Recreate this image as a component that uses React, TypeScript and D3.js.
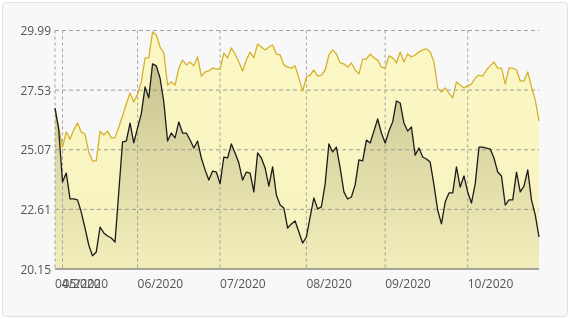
import React from "react";
import * as d3 from "d3";

const yellowValues: number[] = [
  26.79, 25.97, 25.18, 25.8, 25.51, 25.89, 26.17, 25.8, 25.72, 24.98,
  24.61, 24.61, 25.84, 25.68, 25.84, 25.56, 25.56, 26.01, 26.46, 26.96,
  27.41, 27.04, 27.37, 27.87, 28.86, 28.86, 29.93, 29.8, 29.31, 29.06,
  27.74, 27.87, 27.74, 28.44, 28.77, 28.57, 28.69, 28.53, 28.9, 28.11,
  28.28, 28.32, 28.44, 28.4, 28.4, 29.06, 28.86, 29.27, 29.02, 28.69,
  28.32, 28.77, 29.1, 28.86, 29.43, 29.31, 29.19, 29.31, 29.39, 29.02,
  28.98, 28.57, 28.48, 28.44, 28.53, 28.03, 27.49, 28.07, 28.15, 28.36,
  28.11, 28.15, 28.36, 28.98, 29.19, 29.02, 28.65, 28.61, 28.48, 28.65,
  28.36, 28.2, 28.81, 28.81, 29.02, 28.86, 28.77, 28.48, 28.44, 28.94,
  28.86, 28.65, 29.1, 28.69, 29.02, 28.9, 28.98, 29.1, 29.19, 29.23,
  29.1, 28.69, 27.62, 27.45, 27.62, 27.41, 27.21, 27.87, 27.74, 27.62,
  27.7, 27.78, 28.03, 28.15, 28.11, 28.36, 28.53, 28.69, 28.44, 28.44,
  27.78, 28.44, 28.44, 28.36, 27.91, 27.91, 28.28, 27.66, 27.12, 26.26,
];

const blackValues: number[] = [
  26.79, 25.89, 23.74, 24.11, 23.04, 23.04, 23.0, 22.5, 21.84, 21.14,
  20.69, 20.85, 21.88, 21.64, 21.51, 21.43, 21.26, 23.33, 25.39, 25.43,
  26.17, 25.35, 25.97, 26.55, 27.66, 27.21, 28.61, 28.53, 28.03, 27.04,
  25.43, 25.76, 25.56, 26.22, 25.76, 25.76, 25.47, 25.14, 25.43, 24.73,
  24.24, 23.82, 24.19, 24.15, 23.66, 24.77, 24.73, 25.31, 24.94, 24.52,
  23.82, 24.15, 24.11, 23.33, 24.94, 24.73, 24.32, 23.57, 24.36, 23.2,
  22.79, 22.67, 21.84, 22.01, 22.13, 21.68, 21.22, 21.47, 22.3, 23.08,
  22.63, 22.71, 23.66, 25.31, 24.98, 25.18, 24.32, 23.33, 23.04, 23.12,
  23.62, 24.65, 24.61, 25.47, 25.35, 25.84, 26.34, 25.76, 25.35, 25.84,
  26.22, 27.08, 27.0, 26.17, 25.84, 26.01, 24.85, 25.14, 24.77, 24.69,
  24.56, 23.62, 22.58, 22.01, 22.91, 23.29, 23.29, 24.36, 23.53, 23.99,
  23.33, 22.87, 23.66, 25.18, 25.18, 25.14, 25.1, 24.73, 24.15, 23.99,
  22.79, 23.0, 23.0, 24.15, 23.33, 23.57, 24.24, 23.0, 22.38, 21.47,
];

const yTicks: number[] = [20.15, 22.61, 25.07, 27.53, 29.99];
const monthTickIndex: number[] = [0, 2, 22, 44, 67, 88, 110];
const monthTickLabels: string[] = ["04/2020", "05/2020", "06/2020", "07/2020", "08/2020", "09/2020", "10/2020"];

const W = 570;
const H = 319;
const left = 55;
const right = 539;
const top = 30.5;
const bottom = 269;
const FONT = "'Open Sans', 'Noto Sans', sans-serif";

export default function App() {
  const n = yellowValues.length;
  const x = d3.scaleLinear().domain([0, n - 1]).range([left, right]);
  const y = d3.scaleLinear().domain([20.15, 29.99]).range([bottom, top]);

  const line = d3
    .line<number>()
    .x((_, i) => x(i))
    .y((d) => y(d));
  const area = d3
    .area<number>()
    .x((_, i) => x(i))
    .y0(bottom)
    .y1((d) => y(d));

  return (
    <div style={{ position: "fixed", left: 0, top: 0, width: W, height: H }}>
      <svg width={W} height={H} style={{ display: "block" }}>
        <defs>
          <linearGradient id="gY" gradientUnits="userSpaceOnUse" x1="0" y1={top} x2="0" y2={bottom}>
            <stop offset="0" stopColor="#fbf8c6" />
            <stop offset="1" stopColor="#f6f3c0" />
          </linearGradient>
          <linearGradient id="gB" gradientUnits="userSpaceOnUse" x1="0" y1={top} x2="0" y2={bottom}>
            <stop offset="0" stopColor="#c0bb86" />
            <stop offset="0.5" stopColor="#dcd8a6" />
            <stop offset="1" stopColor="#f1eebb" />
          </linearGradient>
        </defs>
        <rect x={2.5} y={2.5} width={W - 5} height={H - 5} rx={3} fill="#f8f8f9" stroke="#e2e2e2" strokeWidth={1} />

        <path d={area(yellowValues) || ""} fill="url(#gY)" />
        <path d={area(blackValues) || ""} fill="url(#gB)" />

        {yTicks.slice(1).map((t) => (
          <line key={"h" + t} x1={left} x2={right} y1={y(t)} y2={y(t)} stroke="#8a8a8a" strokeWidth={0.8} strokeDasharray="4,3" />
        ))}
        {monthTickIndex.map((idx) => (
          <line key={"v" + idx} x1={x(idx)} x2={x(idx)} y1={top} y2={bottom} stroke="#8a8a8a" strokeWidth={0.8} strokeDasharray="3,3" />
        ))}

        <path d={line(yellowValues) || ""} fill="none" stroke="#d5b22a" strokeWidth={1.3} strokeLinejoin="round" />
        <path d={line(blackValues) || ""} fill="none" stroke="#1b1b1b" strokeWidth={1.3} strokeLinejoin="round" />

        <line x1={left} x2={right} y1={bottom} y2={bottom} stroke="#555" strokeWidth={1} />

        {yTicks.map((t) => (
          <text key={"yl" + t} x={51} y={y(t) + 4.5} textAnchor="end" fontFamily={FONT} fontSize={12} fill="#555">
            {t.toFixed(2)}
          </text>
        ))}
        {monthTickIndex.map((idx, k) => (
          <text key={"xl" + idx} x={x(idx)} y={288} textAnchor="start" fontFamily={FONT} fontSize={12} fill="#555">
            {monthTickLabels[k]}
          </text>
        ))}
      </svg>
    </div>
  );
}
